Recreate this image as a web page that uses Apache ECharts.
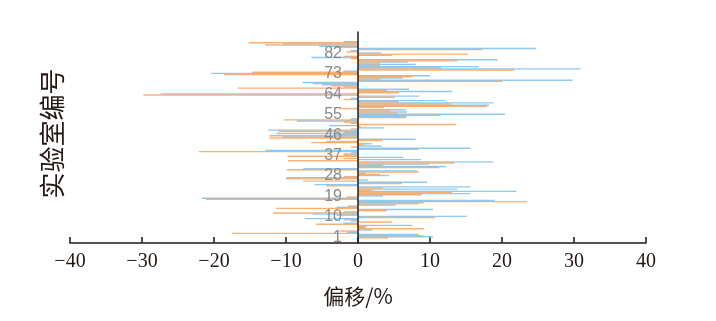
<!DOCTYPE html>
<html>
<head>
<meta charset="utf-8">
<script src="https://cdn.jsdelivr.net/npm/echarts@6/dist/echarts.min.js"></script>
<style>html,body{margin:0;padding:0;background:#fff;}#c{width:716px;height:321px;}</style>
</head>
<body>
<div id="c"></div>
<script>
// Laboratory numbers (1..91); two blank slots below lab 1
const labs = [1,2,3,4,5,6,7,8,9,10,11,12,13,14,15,16,17,18,19,20,21,22,23,24,25,26,27,28,29,30,
  31,32,33,34,35,36,37,38,39,40,41,42,43,44,45,46,47,48,49,50,51,52,53,54,55,56,57,58,59,60,
  61,62,63,64,65,66,67,68,69,70,71,72,73,74,75,76,77,78,79,80,81,82,83,84,85,86,87,88,89,90,91];
const labelLabs = [1,10,19,28,37,46,55,64,73,82];
// Offset (%) per lab, orange series
const orangeVals = [4.2,9.1,-17.5,-2.6,9.2,1.2,-5.8,4.7,-2,10.7,
  -3,-11.8,4,-11.4,-1.4,8.4,23.5,-21.1,-1.6,8.8,
  13.1,2,3.5,-4.4,6.1,-7.6,-10,-2,3.1,8.5,
  -9.9,11.3,3.5,13.4,-9.7,-2,-9.8,-2,-22.1,8.4,
  -1,0.9,-6.5,3.4,-12.3,-12.3,-11.3,-11,-1,0.4,
  13.6,-2,-10.3,6.6,11.5,5.5,4.5,-2.6,17.9,12.9,
  5.7,-2,5.1,-29.8,5.7,4,-16.7,-3.7,-6.3,20,
  3.1,7.5,-18.6,-14.7,21.7,11.5,3.1,3.1,13.8,-1,
  -2,15.3,-1.6,17.3,-3.3,-12.9,-15.2];
// Offset (%) per lab, blue series
const blueVals = [10.4,8.4,-1.5,2,1,7.5,-2,-1,-7.4,15.1,
  -6.3,-2,10.4,-3,5.2,9.1,19,-21.7,3.5,15.6,
  22,13.8,15.6,-6,9.6,1.4,-10,4.3,1,8.2,
  -7.6,12.2,9.9,18.8,8.75,6.3,-2,-1,-12.9,15.6,
  3.3,1.9,-4.4,8,-10.5,-3,-2,-12.5,3.6,-4,
  -1,-8.5,-1,6.8,20.4,6.8,6.6,3.6,18.2,18.8,
  12.1,-1,8.5,-27.4,13.1,7.1,-2,-5,-7.7,29.8,
  6.2,10,-20.4,-2,30.9,16.8,8,6.9,19.4,-6.5,
  4.7,3.2,-1,24.7,-5.4,-10.5,-2];
const xTicks = [-40,-30,-20,-10,0,10,20,30,40];

const cats = ['p0','p1'].concat(labs.map(String));
const pad = [null, null];
const oData = pad.concat(orangeVals);
const bData = pad.concat(blueVals);

const chart = echarts.init(document.getElementById('c'), null, {renderer:'canvas'});
chart.setOption({
  animation: false,
  grid: {left: 70, right: 70, top: 32, bottom: 78, containLabel: false, outerBoundsMode: 'none'},
  xAxis: {
    type: 'value', min: xTicks[0], max: xTicks[xTicks.length-1], interval: 10,
    splitLine: {show: false},
    axisLine: {show: true, lineStyle: {color: '#231815', width: 1.5}},
    axisTick: {show: true, inside: true, length: 6, lineStyle: {color: '#231815', width: 1.5}},
    axisLabel: {
      color: '#231815', fontFamily: 'Liberation Serif', fontSize: 20, margin: 9,
      formatter: v => v < 0 ? '\u2212' + Math.abs(v) : String(v)
    },
    name: '偏移/%', nameLocation: 'middle', nameGap: 43,
    nameTextStyle: {color: '#231815', fontFamily: 'Noto Sans CJK SC', fontSize: 21}
  },
  yAxis: {
    type: 'category', data: cats, z: 10, position: 'left', offset: -288,
    axisLine: {show: true, onZero: false, lineStyle: {color: '#231815', width: 1.5}},
    axisTick: {show: false},
    splitLine: {show: false},
    axisLabel: {
      color: '#8a8a8a', fontFamily: 'Liberation Sans', fontSize: 16, margin: 16,
      interval: (idx, val) => labelLabs.indexOf(Number(val)) >= 0 && val.charAt(0) !== 'p'
    },
    name: '实验室编号', nameLocation: 'middle', nameGap: 293, nameRotate: 90,
    nameTextStyle: {color: '#231815', fontFamily: 'Noto Sans CJK SC', fontSize: 26, padding: [0, 0, 0, 8]}
  },
  series: [
    {type: 'bar', name: 'B', data: bData, barWidth: 1.4, barGap: '-20%',
     itemStyle: {color: 'rgba(125,192,236,0.85)'}},
    {type: 'bar', name: 'A', data: oData, barWidth: 1.4, barGap: '-20%',
     itemStyle: {color: 'rgba(246,160,88,0.82)'}}
  ]
});
</script>
</body>
</html>
